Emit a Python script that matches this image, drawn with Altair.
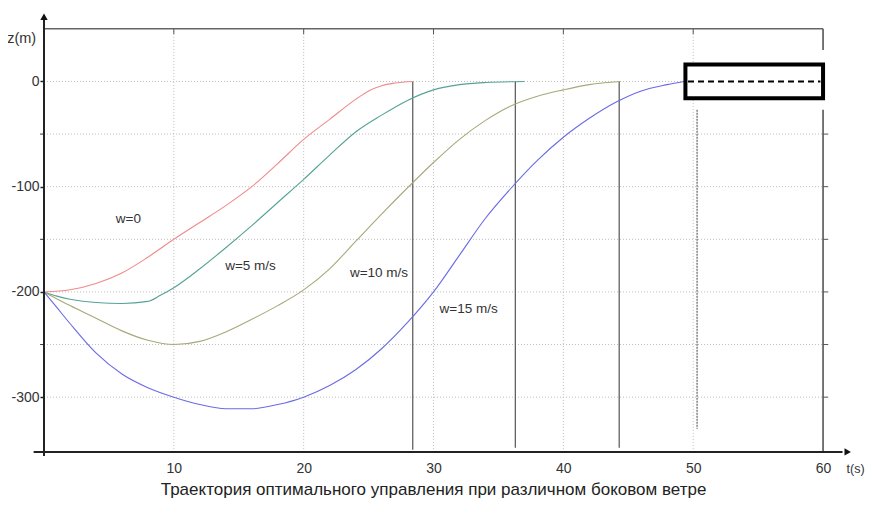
import altair as alt
import pandas as pd

# ---- data ----
red_t = [0, 2, 4, 6, 8, 10, 12, 14, 16, 18, 20, 22, 24, 25, 26, 27, 28.4]
red_z = [-200, -198, -192, -182, -167, -150, -134, -118, -100, -78, -55, -36, -17, -9, -4, -1.5, 0]

teal_t = [0, 1, 2, 4, 6, 8, 9, 10, 12, 14, 16, 18, 20, 22, 24, 26, 28, 30, 32, 34, 37]
teal_z = [-200, -204, -207, -210, -211, -209, -203, -196, -178, -158, -137, -115, -93, -70, -48, -32, -18, -8, -3, -1, 0]

olive_t = [0, 2, 4, 6, 8, 10, 12, 14, 16, 18, 20, 22, 24, 26, 28, 30, 32, 34, 36, 38, 40, 42, 44.4]
olive_z = [-200, -213, -225, -237, -246, -250, -247, -238, -226, -213, -198, -178, -152, -126, -101, -77, -55, -37, -23, -14, -8, -3, 0]

blue_t = [0, 1, 2, 4, 6, 8, 10, 12, 14, 16, 18, 20, 22, 24, 26, 28, 30, 32, 34, 36, 38, 40, 42, 44, 46, 48, 49.3]
blue_z = [-200, -215, -230, -258, -278, -291, -300, -307, -311, -311, -307, -300, -289, -274, -254, -229, -200, -165, -130, -101, -75, -53, -35, -20, -9, -3, 0]

series_names = ["w=0", "w=5", "w=10", "w=15"]
series_colors = ["#f08a8a", "#55a395", "#a9a878", "#6a6ae6"]

label_text = ["w=0", "w=5 m/s", "w=10 m/s", "w=15 m/s"]
label_t = [6.5, 15.9, 25.8, 32.7]
label_z = [-131, -175, -182, -216]

drop_t = [28.4, 36.3, 44.3]
x_ticks = [10, 20, 30, 40, 50, 60]
y_ticks = [0, -100, -200, -300]
grid_t = [10, 20, 30, 40, 50]
grid_z = [0, -50, -100, -150, -200, -250, -300]

title_text = "Траектория оптимального управления при различном боковом ветре"

FONT = "Liberation Sans"
xs = alt.Scale(domain=[0, 63], nice=False, zero=False)
ys = alt.Scale(domain=[-354, 66], nice=False, zero=False)

x_axis_def = alt.Axis(values=x_ticks, ticks=False, labelPadding=7, domain=False, grid=False, title=None,
                      labelFont=FONT, labelFontSize=14, labelColor="#333")
y_axis_def = alt.Axis(values=y_ticks, tickSize=4, tickColor="#222", tickWidth=1.5, labelPadding=1,
                      domain=False, grid=False, title=None, labelFont=FONT, labelFontSize=14,
                      labelColor="#333", labelExpr="'' + datum.value")


def X(f):
    return alt.X(f, type="quantitative", scale=xs, axis=x_axis_def)


def Y(f):
    return alt.Y(f, type="quantitative", scale=ys, axis=y_axis_def)


# curves
frames = []
for name, tt, zz in zip(series_names, [red_t, teal_t, olive_t, blue_t], [red_z, teal_z, olive_z, blue_z]):
    frames.append(pd.DataFrame({"t": tt, "z": zz, "w": name}))
curves_df = pd.concat(frames, ignore_index=True)

curves = alt.Chart(curves_df).mark_line(strokeWidth=1.1, interpolate="monotone").encode(
    x=X("t"),
    y=Y("z"),
    color=alt.Color("w:N", scale=alt.Scale(domain=series_names, range=series_colors), legend=None),
    detail="w:N",
    order="t:Q",
)

# grid
hgrid = alt.Chart(pd.DataFrame({"z": grid_z, "t0": 0, "t1": 60})).mark_rule(
    color="#bdbdbd", strokeDash=[1, 2], strokeWidth=1).encode(x=X("t0"), x2="t1", y=Y("z"))
vgrid = alt.Chart(pd.DataFrame({"t": grid_t, "z0": -352, "z1": 50})).mark_rule(
    color="#bdbdbd", strokeDash=[1, 2], strokeWidth=1).encode(x=X("t"), y=Y("z0"), y2="z1")

# frame lines
top_frame = alt.Chart(pd.DataFrame({"z": [50], "t0": [0], "t1": [60]})).mark_rule(
    color="#666", strokeWidth=1.5).encode(x=X("t0"), x2="t1", y=Y("z"))
right_frame = alt.Chart(pd.DataFrame({"t": [60, 60], "z0": [50, -27], "z1": [30, -352]})).mark_rule(
    color="#555", strokeWidth=1.6).encode(x=X("t"), y=Y("z0"), y2="z1")
top_ticks = alt.Chart(pd.DataFrame({"t": grid_t, "z0": 50, "z1": 45})).mark_rule(
    color="#555", strokeWidth=1).encode(x=X("t"), y=Y("z0"), y2="z1")
right_ticks = alt.Chart(pd.DataFrame({"z": grid_z[1:], "t0": 60, "t1": 60.4})).mark_rule(
    color="#555", strokeWidth=1).encode(x=X("t0"), x2="t1", y=Y("z"))
left_minor = alt.Chart(pd.DataFrame({"z": [-50, -150, -250], "t0": -0.3, "t1": 0})).mark_rule(
    color="#333", strokeWidth=1).encode(x=X("t0"), x2="t1", y=Y("z"))
mid_line = alt.Chart(pd.DataFrame({"t": [50.3], "z0": [-27], "z1": [-330]})).mark_rule(
    color="#888", strokeWidth=1.6, strokeDash=[2, 1]).encode(x=X("t"), y=Y("z0"), y2="z1")

# drop lines
drops = alt.Chart(pd.DataFrame({"t": drop_t, "z0": 0, "z1": [-350, -348, -348]})).mark_rule(
    color="#555", strokeWidth=1.2).encode(x=X("t"), y=Y("z0"), y2="z1")

# target box
box = alt.Chart(pd.DataFrame({"t0": [49.4], "t1": [60], "z0": [16], "z1": [-16]})).mark_rect(
    fill="white", stroke="black", strokeWidth=4).encode(x=X("t0"), x2="t1", y=Y("z0"), y2="z1")
box_line = alt.Chart(pd.DataFrame({"t0": [49.6], "t1": [59.8], "z": [0]})).mark_rule(
    color="black", strokeWidth=2, strokeDash=[6, 4]).encode(x=X("t0"), x2="t1", y=Y("z"))

# axes lines and arrows
x_axis = alt.Chart(pd.DataFrame({"t0": [-0.8], "t1": [61.5], "z": [-352]})).mark_rule(
    color="#222", strokeWidth=2).encode(x=X("t0"), x2="t1", y=Y("z"))
y_axis = alt.Chart(pd.DataFrame({"t": [0], "z0": [-356], "z1": [60]})).mark_rule(
    color="#222", strokeWidth=2).encode(x=X("t"), y=Y("z0"), y2="z1")
arrow_up = alt.Chart(pd.DataFrame({"t": [0], "z": [61.5]})).mark_point(
    shape="triangle-up", filled=True, size=55, color="#111", opacity=1).encode(x=X("t"), y=Y("z"))
arrow_right = alt.Chart(pd.DataFrame({"t": [61.9], "z": [-352]})).mark_point(
    shape="triangle-right", filled=True, size=55, color="#111", opacity=1).encode(x=X("t"), y=Y("z"))

# texts
labels = alt.Chart(pd.DataFrame({"t": label_t, "z": label_z, "txt": label_text})).mark_text(
    font=FONT, fontSize=13.5, color="#333", align="center", baseline="middle").encode(
    x=X("t"), y=Y("z"), text="txt:N")
zlab = alt.Chart(pd.DataFrame({"t": [-0.6], "z": [40], "txt": ["z(m)"]})).mark_text(
    font=FONT, fontSize=14.5, color="#333", align="right", baseline="middle").encode(
    x=X("t"), y=Y("z"), text="txt:N")
tlab = alt.Chart(pd.DataFrame({"t": [63.2], "z": [-368], "txt": ["t(s)"]})).mark_text(
    font=FONT, fontSize=12.5, color="#333", align="right", baseline="middle").encode(
    x=X("t"), y=Y("z"), text="txt:N")
title = alt.Chart(pd.DataFrame({"t": [30], "z": [-388.5], "txt": [title_text]})).mark_text(
    font=FONT, fontSize=17, color="#222", align="center", baseline="middle").encode(
    x=X("t"), y=Y("z"), text="txt:N")

chart = alt.layer(
    hgrid, vgrid, top_frame, right_frame, top_ticks, right_ticks, left_minor, mid_line,
    drops, curves, box, box_line, x_axis, y_axis, arrow_up, arrow_right,
    labels, zlab, tlab, title,
).properties(
    width=818, height=442,
    autosize=alt.AutoSizeParams(type="none"),
    padding={"left": 36, "top": 4, "right": 4, "bottom": 47},
    background="white",
).configure_view(stroke=None)

chart.save("out.html", embed_options={"renderer": "svg", "actions": False})
